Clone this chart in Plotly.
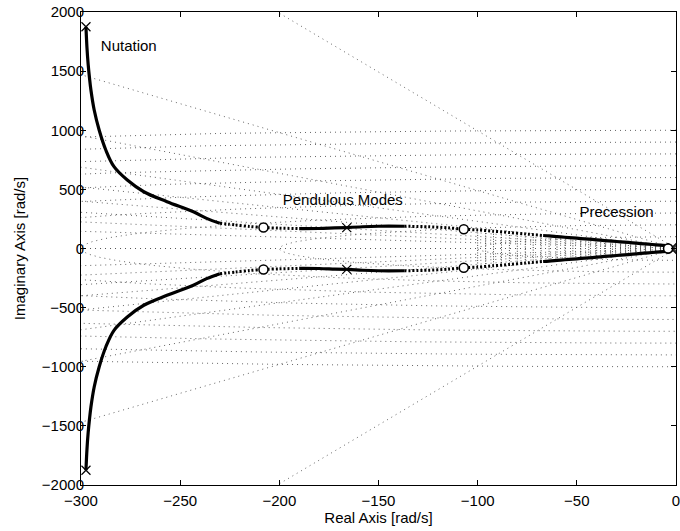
import numpy as np
import plotly.graph_objects as go

# ---------------- data (upper half; lower half is the complex conjugate) ----------------
# Nutation branch (solid)
nut_re = [-297.5, -297.0, -296.4, -295.7, -295.0, -293.35, -290.85, -287.5, -283.35,
          -276.65, -268.35, -256.65, -243.35, -236.65, -230]
nut_im = [1875, 1700, 1560, 1440, 1340, 1171, 1002, 833, 692,
          579, 480, 396, 311, 255, 213]
# Pendulous segments
pend_dot1_re = [-230, -222, -215, -208, -200, -190]
pend_dot1_im = [213, 199, 186, 177, 172, 168]
pend_sol1_re = [-190, -180, -172, -166]
pend_sol1_im = [168, 169, 174, 177]
pend_sol2_re = [-166, -158, -150, -137]
pend_sol2_im = [177, 184, 188, 188]
pend_dot2_re = [-137, -125, -115, -107, -100, -92, -84, -76, -67]
pend_dot2_im = [188, 184, 175, 163, 157, 146, 135, 123, 110]
# Precession wedge (solid)
prec_re = [-67, -64, -60, -56, -52, -48, -44, -40, -36, -32, -28, -24, -20, -16, -12, -8, -4, -2]
prec_im = [110, 107, 101, 95, 90, 84, 79, 73, 67, 62, 56, 51, 45, 39, 34, 28, 23, 12]
# Same-gain connectors in precession region
ladder_re = [-100, -96, -92, -88, -84, -80, -76, -72, -68, -64, -60, -56, -52, -48, -44,
             -40, -36, -32, -28, -24, -20, -16, -12, -8, -4]
ladder_im = [157, 151, 146, 140, 135, 129, 123, 118, 112, 107, 101, 95, 90, 84, 79,
             73, 67, 62, 56, 51, 45, 39, 34, 28, 23]
# Poles and zeros
pole_re = [-297.5, -166, -2]
pole_im = [1875, 177, 8]
zero_re = [-208, -107, -4]
zero_im = [177, 163, 0]
# sgrid
zeta_grid = [0.1, 0.2, 0.3, 0.4, 0.5, 0.6, 0.7, 0.8, 0.9, 1.0]
wn_grid = [100, 200, 300, 400, 500, 600, 700, 800, 900, 1000]
# labels
labels = ["Nutation", "Pendulous Modes", "Precession"]
label_re = [-290, -168, -30]
label_im = [1700, 400, 300]
x_ticks = [-300, -250, -200, -150, -100, -50, 0]
y_ticks = [-2000, -1500, -1000, -500, 0, 500, 1000, 1500, 2000]

FONT = "Liberation Sans, Arial, Helvetica, sans-serif"
fig = go.Figure()

grid_style = dict(color="#555", width=0.9, dash="1px,4px")
# damping lines
gx, gy = [], []
for z in zeta_grid:
    R = 5000
    s = np.sqrt(max(0.0, 1 - z * z))
    gx += [0, -R * z, None, 0, -R * z, None]
    gy += [0, R * s, None, 0, -R * s, None]
fig.add_trace(go.Scatter(x=gx, y=gy, mode="lines", line=grid_style, hoverinfo="skip"))
# natural frequency circles
cx, cy = [], []
th = np.linspace(np.pi / 2, 3 * np.pi / 2, 600)
for w in wn_grid:
    cx += list(w * np.cos(th)) + [None]
    cy += list(w * np.sin(th)) + [None]
fig.add_trace(go.Scatter(x=cx, y=cy, mode="lines", line=grid_style, hoverinfo="skip"))

# ladder connectors
lx, ly = [], []
for r, i in zip(ladder_re, ladder_im):
    lx += [r, r, None]
    ly += [i, -i, None]
fig.add_trace(go.Scatter(x=lx, y=ly, mode="lines",
                         line=dict(color="#444", width=1, dash="1px,1.5px"), hoverinfo="skip"))

def conj_pair(re, im):
    return list(re) + [None] + list(re), list(im) + [None] + [-v for v in im]

solid = dict(color="black", width=3.2, shape="spline", smoothing=1.0)
dotted = dict(color="black", width=3, dash="2px,2px", shape="spline", smoothing=0.8)
for re, im, st in [(nut_re, nut_im, solid), (pend_dot1_re, pend_dot1_im, dotted),
                   (pend_sol1_re, pend_sol1_im, solid), (pend_sol2_re, pend_sol2_im, solid),
                   (pend_dot2_re, pend_dot2_im, dotted), (prec_re, prec_im, solid)]:
    for sign in (1, -1):
        fig.add_trace(go.Scatter(x=re, y=[sign * v for v in im], mode="lines", line=st,
                                 hoverinfo="skip"))

px, py = conj_pair(pole_re, pole_im)
fig.add_trace(go.Scatter(x=px, y=py, mode="markers",
                         marker=dict(symbol="x-thin-open", size=9, color="black",
                                     line=dict(color="black", width=1.2))))
zx, zy = conj_pair(zero_re, zero_im)
fig.add_trace(go.Scatter(x=zx, y=zy, mode="markers",
                         marker=dict(symbol="circle", size=9, color="white",
                                     line=dict(color="black", width=1.5))))

fig.add_trace(go.Scatter(x=label_re, y=label_im, mode="text", text=labels,
                         textposition=["middle right", "middle center", "middle center"],
                         textfont=dict(family=FONT, size=15, color="black")))

axis_common = dict(showgrid=False, zeroline=False, showline=True, linecolor="black", linewidth=1,
                   mirror="allticks", ticks="inside", ticklen=5, tickcolor="black",
                   ticklabeloverflow="allow",
                   tickfont=dict(family=FONT, size=15, color="black"))
fig.update_xaxes(range=[-300, 0], tickvals=x_ticks,
                 ticktext=[("−" + str(-v)) if v < 0 else str(v) for v in x_ticks],
                 title=dict(text="Real Axis [rad/s]", font=dict(family=FONT, size=15, color="black"), standoff=4),
                 ticklabelstandoff=2,
                 **axis_common)
fig.update_yaxes(range=[-2000, 2000], tickvals=y_ticks,
                 ticktext=[("−" + str(-v)) if v < 0 else str(v) for v in y_ticks],
                 title=dict(text="Imaginary Axis [rad/s]", font=dict(family=FONT, size=15, color="black"), standoff=12),
                 ticklabelstandoff=-7,
                 **axis_common)
fig.update_layout(width=680, height=531, margin=dict(l=81, r=0, t=12, b=46),
                  paper_bgcolor="white", plot_bgcolor="white", showlegend=False)
fig.write_html("out.html")
